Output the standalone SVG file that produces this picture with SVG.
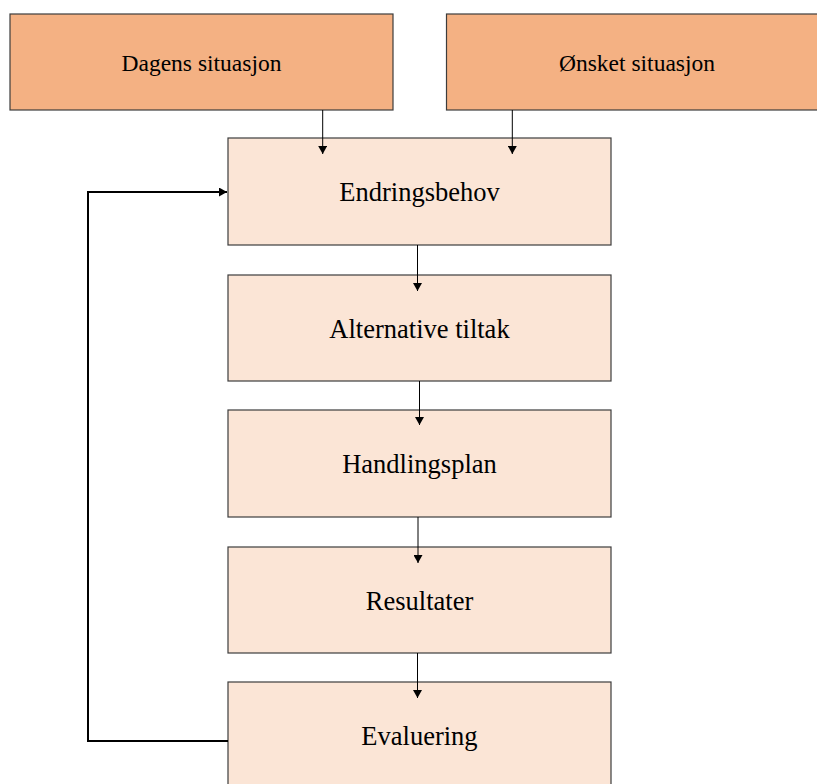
<svg xmlns="http://www.w3.org/2000/svg" width="817" height="784" viewBox="0 0 817 784">
  <defs>
    <style>
      .top rect { fill: #F4B183; stroke: #3c3c3c; stroke-width: 1.2; }
      .step rect { fill: #FBE5D6; stroke: #3c3c3c; stroke-width: 1.2; }
      text { font-family: "Liberation Serif", "Times New Roman", serif; fill: #000; text-anchor: middle; }
      .top text { font-size: 23.5px; }
      .step text { font-size: 26.5px; }
      .conn { stroke: #000; stroke-width: 1; fill: none; }
      .loop { stroke: #000; stroke-width: 2; fill: none; }
    </style>
    <marker id="arrow" markerWidth="9" markerHeight="9" refX="8" refY="4.5" orient="auto" markerUnits="userSpaceOnUse">
      <path d="M0,0 L8,4.5 L0,9 Z" fill="#000"/>
    </marker>
  </defs>

  <rect width="817" height="784" fill="#fff"/>

  <!-- Input boxes -->
  <g id="dagens" class="top">
    <rect x="10" y="14" width="383" height="96"/>
    <text x="201.5" y="71">Dagens situasjon</text>
  </g>
  <g id="onsket" class="top">
    <rect x="446.5" y="14" width="381" height="96"/>
    <text x="637" y="71">Ønsket situasjon</text>
  </g>

  <!-- Process steps -->
  <g id="endringsbehov" class="step">
    <rect x="228" y="138" width="383" height="107"/>
    <text x="419.5" y="201">Endringsbehov</text>
  </g>
  <g id="alternative" class="step">
    <rect x="228" y="275" width="383" height="106"/>
    <text x="419.5" y="338">Alternative tiltak</text>
  </g>
  <g id="handlingsplan" class="step">
    <rect x="228" y="410" width="383" height="107"/>
    <text x="419.5" y="473">Handlingsplan</text>
  </g>
  <g id="resultater" class="step">
    <rect x="228" y="547" width="383" height="106"/>
    <text x="419.5" y="610">Resultater</text>
  </g>
  <g id="evaluering" class="step">
    <rect x="228" y="682" width="383" height="110"/>
    <text x="419.5" y="745">Evaluering</text>
  </g>

  <!-- Connectors -->
  <g id="connectors">
    <line class="conn" x1="322.7" y1="110" x2="322.7" y2="154" marker-end="url(#arrow)"/>
    <line class="conn" x1="512.3" y1="110" x2="512.3" y2="154" marker-end="url(#arrow)"/>
    <line class="conn" x1="417.5" y1="245" x2="417.5" y2="291" marker-end="url(#arrow)"/>
    <line class="conn" x1="419.5" y1="381" x2="419.5" y2="425" marker-end="url(#arrow)"/>
    <line class="conn" x1="418" y1="517" x2="418" y2="563" marker-end="url(#arrow)"/>
    <line class="conn" x1="417.5" y1="653" x2="417.5" y2="698" marker-end="url(#arrow)"/>
    <polyline class="loop" points="228,741 88,741 88,192 227,192" marker-end="url(#arrow)"/>
  </g>
</svg>
